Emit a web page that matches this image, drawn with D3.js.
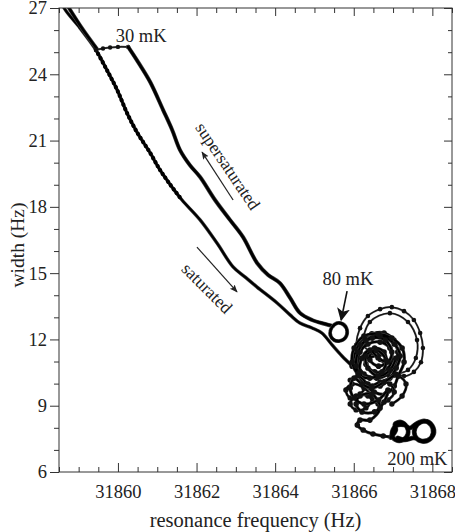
<!DOCTYPE html>
<html>
<head>
<meta charset="utf-8">
<script src="https://cdn.jsdelivr.net/npm/d3@7/dist/d3.min.js"></script>
<style>
  html, body { margin: 0; padding: 0; background: #fff; }
  svg { display: block; }
  text { font-family: "Liberation Serif", "Times New Roman", serif; fill: #222; }
</style>
</head>
<body>
<svg id="chart" width="455" height="532"></svg>
<script>
// Axis ranges and tick values
const xDomain = [31858.5, 31868.5];
const yDomain = [6, 27];
const xMajorTicks = [31860, 31862, 31864, 31866, 31868];
const yMajorTicks = [6, 9, 12, 15, 18, 21, 24, 27];

// Resonance frequency (Hz) / width (Hz) traces
// saturated branch, from the cold end down to the warm region
const saturatedFreq  = [31858.53, 31858.63, 31859.03, 31859.44, 31859.72, 31859.98, 31860.23, 31860.48, 31860.82, 31861.07, 31861.32, 31861.63, 31862.09, 31862.52, 31862.93, 31863.23, 31863.54, 31864.05, 31864.38, 31864.63, 31864.94, 31865.19, 31865.45, 31865.70, 31865.96];
const saturatedWidth = [27.50, 27.00, 26.10, 25.10, 24.19, 23.29, 22.25, 21.39, 20.44, 19.67, 19.03, 18.31, 17.41, 16.36, 15.28, 14.83, 14.37, 13.65, 13.11, 12.74, 12.52, 12.29, 11.75, 11.25, 10.80];

// cold end overlap of the two branches
const coldFreq  = [31858.58, 31859.08, 31859.47];
const coldWidth = [27.50, 26.10, 25.14];

// 30 mK turning point
const plateauFreq  = [31859.44, 31859.62, 31859.80, 31860.00, 31860.26];
const plateauWidth = [25.10, 25.17, 25.21, 25.24, 25.24];

// supersaturated branch
const superFreq  = [31860.26, 31860.51, 31860.82, 31861.15, 31861.38, 31861.58, 31861.83, 31862.09, 31862.47, 31862.85, 31863.18, 31863.54, 31863.82, 31864.12, 31864.38, 31864.63, 31864.94, 31865.27, 31865.47];
const superWidth = [25.24, 24.56, 23.65, 22.38, 21.48, 20.57, 19.89, 19.35, 18.31, 17.41, 16.64, 15.46, 14.92, 14.55, 13.88, 13.20, 12.88, 12.70, 12.61];

// 80 mK loops
const loop80Freq  = [31865.47, 31865.60, 31865.75, 31865.83, 31865.78, 31865.62, 31865.47, 31865.40, 31865.45, 31865.57, 31865.73, 31865.83, 31865.80, 31865.65, 31865.50, 31865.40, 31865.42];
const loop80Width = [12.61, 12.74, 12.65, 12.38, 12.06, 11.93, 12.02, 12.29, 12.56, 12.74, 12.70, 12.43, 12.11, 11.93, 11.97, 12.20, 12.47];

// warm region, dense core
const coreFreq  = [31865.96, 31866.06, 31866.21, 31866.46, 31866.77, 31867.02, 31867.12, 31867.07, 31866.87, 31866.58, 31866.26, 31866.11, 31866.16, 31866.36, 31866.67, 31866.92, 31866.97, 31866.82, 31866.53, 31866.31, 31866.31, 31866.53, 31866.77, 31866.82, 31866.63, 31866.41, 31866.46, 31866.67, 31866.11];
const coreWidth = [10.79, 11.52, 11.97, 12.25, 12.29, 11.97, 11.43, 10.88, 10.43, 10.25, 10.43, 10.88, 11.43, 11.79, 11.88, 11.61, 11.07, 10.62, 10.53, 10.88, 11.34, 11.61, 11.43, 10.97, 10.79, 11.07, 11.43, 11.34, 11.07];

const core2Freq  = [31866.16, 31866.47, 31866.80, 31866.97, 31866.87, 31866.62, 31866.41, 31866.21, 31866.16, 31866.36, 31866.67, 31866.92, 31867.08, 31867.18, 31867.03, 31866.67, 31866.31, 31866.11, 31866.06, 31866.21, 31866.52, 31866.82, 31867.03, 31867.13, 31867.28, 31867.23, 31866.97, 31866.62, 31866.26, 31866.01, 31865.96, 31866.11, 31866.41, 31866.72, 31866.82, 31866.57, 31866.31, 31866.36, 31866.62, 31866.92, 31867.08];
const core2Width = [11.75, 12.06, 11.97, 11.43, 10.98, 11.16, 11.52, 11.16, 10.53, 9.98, 9.89, 10.25, 10.71, 11.25, 11.79, 12.15, 11.97, 11.43, 10.80, 10.16, 9.62, 9.53, 9.89, 10.34, 10.98, 11.61, 12.06, 12.25, 12.15, 11.61, 10.98, 10.44, 10.25, 10.53, 11.07, 11.52, 11.25, 10.71, 10.34, 10.62, 11.16];

const core3Freq  = [31865.91, 31866.11, 31866.31, 31866.16, 31865.91, 31865.80, 31865.96, 31866.26, 31866.47, 31866.31, 31866.06, 31865.91, 31866.06, 31866.36, 31866.62, 31866.87, 31867.03, 31866.92, 31866.67, 31866.47, 31867.13, 31867.33, 31867.23, 31866.97];
const core3Width = [10.16, 10.34, 9.98, 9.53, 9.35, 9.71, 9.98, 9.80, 9.35, 8.90, 8.81, 9.08, 9.44, 9.44, 9.08, 9.26, 9.62, 9.98, 10.07, 9.89, 10.34, 9.98, 9.44, 9.08];

// warm region, wide excursions
const arcFreq  = [31866.11, 31866.06, 31866.16, 31866.36, 31866.67, 31866.97, 31867.28, 31867.53, 31867.69, 31867.76, 31867.71, 31867.53, 31867.28, 31867.02, 31866.67, 31866.26, 31866.41, 31866.92, 31867.38, 31867.61, 31867.58, 31867.38, 31867.07];
const arcWidth = [11.07, 11.75, 12.51, 13.06, 13.37, 13.46, 13.28, 12.88, 12.29, 11.61, 10.97, 10.53, 10.34, 10.53, 11.07, 11.75, 12.79, 13.19, 12.79, 11.97, 11.16, 10.62, 10.43];

// warm region, lower part towards 200 mK
const lowerFreq  = [31867.07, 31866.77, 31866.46, 31866.21, 31866.01, 31865.91, 31866.01, 31866.26, 31866.63, 31866.87, 31866.77, 31866.53, 31866.21, 31866.06, 31866.16, 31866.46, 31866.67, 31866.41, 31866.16, 31866.09, 31866.24, 31866.49, 31866.75, 31866.95];
const lowerWidth = [10.43, 10.07, 9.80, 9.98, 10.25, 9.80, 9.35, 9.08, 9.26, 9.71, 9.17, 8.72, 8.72, 9.08, 9.44, 9.53, 8.90, 8.35, 8.35, 8.13, 7.90, 7.72, 7.63, 7.58];

// 200 mK loops
const loop200Freq  = [31866.95, 31867.07, 31867.05, 31867.20, 31867.35, 31867.38, 31867.25, 31867.07, 31866.97, 31867.07, 31867.28, 31867.43, 31867.58, 31867.79, 31867.97, 31868.02, 31867.91, 31867.71, 31867.56, 31867.56, 31867.71, 31867.91, 31868.04, 31867.97, 31867.76, 31867.53, 31867.30, 31867.12];
const loop200Width = [7.58, 7.90, 8.17, 8.26, 8.04, 7.72, 7.45, 7.45, 7.72, 8.08, 8.13, 7.99, 8.17, 8.31, 8.13, 7.77, 7.45, 7.40, 7.63, 7.99, 8.26, 8.26, 7.90, 7.54, 7.40, 7.54, 7.45, 7.54];

// Annotations (data coordinates)
const tempLabels = [
  { text: "30 mK",  f: 31860.59, w: 25.46 },
  { text: "80 mK",  f: 31865.85, w: 14.46 },
  { text: "200 mK", f: 31867.62, w: 6.32 }
];
const branchLabels = [
  { text: "supersaturated", f: 31862.80, w: 19.85, angle: 56 },
  { text: "saturated",      f: 31862.27, w: 14.33, angle: 45 }
];
const branchArrows = [
  { f0: 31862.93, w0: 18.31, f1: 31862.14, w1: 20.48 },
  { f0: 31862.01, w0: 16.18, f1: 31863.03, w1: 14.15 }
];
const arrow80 = { f0: 31865.83, w0: 14.19, f1: 31865.68, w1: 12.88 };

const svg = d3.select("#chart");
const plotLeft = 59, plotRight = 452, plotTop = 8, plotBottom = 472;

const x = d3.scaleLinear().domain(xDomain).range([plotLeft, plotRight]);
const y = d3.scaleLinear().domain(yDomain).range([plotBottom, plotTop]);

const zip = (a, b) => a.map((v, i) => [v, b[i]]);

const defs = svg.append("defs");
defs.append("clipPath").attr("id", "plot")
  .append("rect").attr("x", plotLeft).attr("y", plotTop)
  .attr("width", plotRight - plotLeft).attr("height", plotBottom - plotTop);

const plot = svg.append("g").attr("clip-path", "url(#plot)");
const line = d3.line().x(d => x(d[0])).y(d => y(d[1])).curve(d3.curveCatmullRom.alpha(0.5));

function trace(pts, width, markerR) {
  plot.append("path").attr("d", line(pts)).attr("fill", "none")
    .attr("stroke", "#444").attr("stroke-width", width + 1.2)
    .attr("stroke-linejoin", "round").attr("stroke-linecap", "round");
  plot.append("path").attr("d", line(pts)).attr("fill", "none")
    .attr("stroke", "#000").attr("stroke-width", width)
    .attr("stroke-linejoin", "round").attr("stroke-linecap", "round");
  if (markerR) {
    plot.append("g").selectAll("circle").data(pts).join("circle")
      .attr("cx", d => x(d[0])).attr("cy", d => y(d[1]))
      .attr("r", markerR).attr("fill", "#111");
  }
}

// dotted texture where the saturated branch was sampled sparsely
function beaded(pts) {
  plot.append("path").attr("d", line(pts)).attr("fill", "none")
    .attr("stroke", "#000").attr("stroke-width", 4.2)
    .attr("stroke-dasharray", "0.1 4.6").attr("stroke-linecap", "round");
}

trace(zip(arcFreq, arcWidth), 0.8, 2.3);
trace(zip(saturatedFreq, saturatedWidth), 2.2, 0);
beaded(zip(saturatedFreq, saturatedWidth).slice(3, 12));
trace(zip(coldFreq, coldWidth), 2.6, 0);
trace(zip(plateauFreq, plateauWidth), 0.8, 2.2);
trace(zip(superFreq, superWidth), 2.8, 0);
trace(zip(loop80Freq, loop80Width), 2.4, 0);
trace(zip(coreFreq, coreWidth), 2.0, 2.8);
trace(zip(core2Freq, core2Width), 2.0, 2.8);
trace(zip(core3Freq, core3Width), 1.6, 2.7);
trace(zip(lowerFreq, lowerWidth), 2.0, 2.8);
trace(zip(loop200Freq, loop200Width), 3.6, 0);

// Axes
const axisColor = "#333";
function styleAxis(g) {
  g.select(".domain").remove();
  g.selectAll("line").attr("stroke", axisColor);
  g.selectAll("text").attr("font-size", "18.5px")
    .attr("font-family", "Liberation Serif, Times New Roman, serif").attr("fill", "#222");
}
const xMinor = d3.range(xDomain[0], xDomain[1] + 0.001, 0.5).filter(v => !xMajorTicks.includes(v));
const yMinor = d3.range(yDomain[0], yDomain[1] + 0.001, 1).filter(v => !yMajorTicks.includes(v));

svg.append("g").attr("transform", `translate(0,${plotBottom})`)
  .call(d3.axisBottom(x).tickValues(xMajorTicks).tickFormat(d3.format("d"))
    .tickSizeInner(-9).tickSizeOuter(0).tickPadding(13)).call(styleAxis);
svg.append("g").attr("transform", `translate(0,${plotBottom})`)
  .call(d3.axisBottom(x).tickValues(xMinor).tickFormat("")
    .tickSizeInner(-5).tickSizeOuter(0)).call(styleAxis);
svg.append("g").attr("transform", `translate(0,${plotTop})`)
  .call(d3.axisTop(x).tickValues(xMajorTicks).tickFormat("")
    .tickSizeInner(-8).tickSizeOuter(0)).call(styleAxis);
svg.append("g").attr("transform", `translate(0,${plotTop})`)
  .call(d3.axisTop(x).tickValues(xMinor).tickFormat("")
    .tickSizeInner(-5).tickSizeOuter(0)).call(styleAxis);

svg.append("g").attr("transform", `translate(${plotLeft},0)`)
  .call(d3.axisLeft(y).tickValues(yMajorTicks).tickFormat(d3.format("d"))
    .tickSizeInner(9).tickSizeOuter(0).tickPadding(3)).call(styleAxis);
svg.append("g").attr("transform", `translate(${plotLeft},0)`)
  .call(d3.axisLeft(y).tickValues(yMinor).tickFormat("")
    .tickSizeInner(5).tickSizeOuter(0)).call(styleAxis);
svg.append("g").attr("transform", `translate(${plotRight},0)`)
  .call(d3.axisRight(y).tickValues(yMajorTicks).tickFormat("")
    .tickSizeInner(-8).tickSizeOuter(0)).call(styleAxis);
svg.append("g").attr("transform", `translate(${plotRight},0)`)
  .call(d3.axisRight(y).tickValues(yMinor).tickFormat("")
    .tickSizeInner(-4).tickSizeOuter(0)).call(styleAxis);

svg.append("rect").attr("x", plotLeft).attr("y", plotTop)
  .attr("width", plotRight - plotLeft).attr("height", plotBottom - plotTop)
  .attr("fill", "none").attr("stroke", axisColor).attr("stroke-width", 1);

// Axis titles
svg.append("text").attr("x", (plotLeft + plotRight) / 2).attr("y", 527)
  .attr("text-anchor", "middle").attr("font-size", "20.5px")
  .text("resonance frequency (Hz)");
svg.append("text").attr("transform", "translate(17,245) rotate(-90)")
  .attr("text-anchor", "middle").attr("dy", "0.35em").attr("font-size", "19.5px")
  .text("width (Hz)");

// Temperature labels
svg.append("g").selectAll("text").data(tempLabels).join("text")
  .attr("x", d => x(d.f)).attr("y", d => y(d.w))
  .attr("text-anchor", "middle").attr("font-size", "18.5px")
  .text(d => d.text);

// Branch labels
svg.append("g").selectAll("text").data(branchLabels).join("text")
  .attr("transform", d => `translate(${x(d.f)},${y(d.w)}) rotate(${d.angle})`)
  .attr("text-anchor", "middle").attr("dy", "0.35em").attr("font-size", "17.5px")
  .text(d => d.text);

// Arrows
defs.append("marker").attr("id", "head").attr("viewBox", "0 0 10 10")
  .attr("refX", 9).attr("refY", 5).attr("markerWidth", 8).attr("markerHeight", 8)
  .attr("markerUnits", "userSpaceOnUse").attr("orient", "auto")
  .append("path").attr("d", "M0,1 L10,5 L0,9 L2,5 Z").attr("fill", "#222");
defs.append("marker").attr("id", "bighead").attr("viewBox", "0 0 10 10")
  .attr("refX", 9).attr("refY", 5).attr("markerWidth", 13).attr("markerHeight", 13)
  .attr("markerUnits", "userSpaceOnUse").attr("orient", "auto")
  .append("path").attr("d", "M0,0 L10,5 L0,10 L2.5,5 Z").attr("fill", "#111");

svg.append("g").selectAll("line").data(branchArrows).join("line")
  .attr("x1", d => x(d.f0)).attr("y1", d => y(d.w0))
  .attr("x2", d => x(d.f1)).attr("y2", d => y(d.w1))
  .attr("stroke", "#222").attr("stroke-width", 1.2).attr("marker-end", "url(#head)");

svg.append("line")
  .attr("x1", x(arrow80.f0)).attr("y1", y(arrow80.w0))
  .attr("x2", x(arrow80.f1)).attr("y2", y(arrow80.w1))
  .attr("stroke", "#111").attr("stroke-width", 1.6).attr("marker-end", "url(#bighead)");
</script>
</body>
</html>
